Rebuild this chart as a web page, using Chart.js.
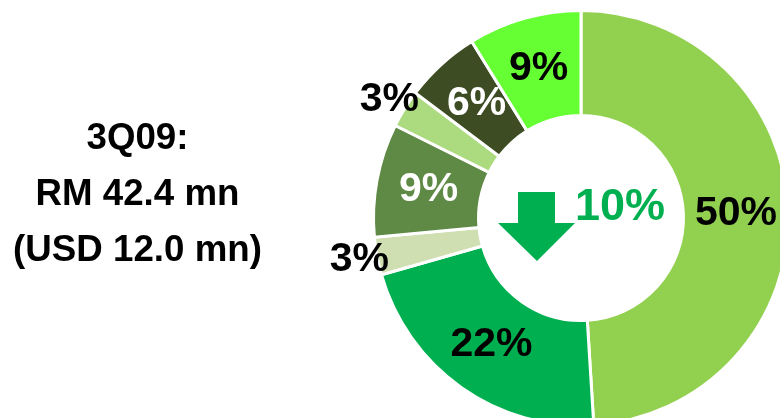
<!DOCTYPE html>
<html>
<head>
<meta charset="utf-8">
<script src="https://cdn.jsdelivr.net/npm/chart.js@4"></script>
<style>
  html, body { margin: 0; padding: 0; width: 780px; height: 418px; overflow: hidden; background: #fff; }
  #wrap { position: absolute; left: 0; top: 0; width: 800px; height: 440px; }
  #caption {
    position: absolute; left: 0; top: 108.5px; width: 275px;
    text-align: center; font: bold 36px/56.2px "Liberation Sans", Arial, sans-serif;
    color: #000; transform: scaleX(1.02); transform-origin: 137.5px 0;
  }
</style>
</head>
<body>
<div id="wrap"><canvas id="c"></canvas></div>
<div id="caption">3Q09:<br>RM 42.4 mn<br>(USD 12.0 mn)</div>
<script>
// Revenue share by segment, clockwise from 12 o'clock (percent)
const sharePct = [50, 22, 3, 9, 3, 6, 9];
const sliceLabels = sharePct.map(v => v + '%');
// Quarter-on-quarter change shown in the hole
const changePct = 10;

const sliceColors = ['#92D050', '#00B050', '#D0DFB2', '#5F8A45', '#ACDA7E', '#3D4C22', '#66FF33'];
const labelInk    = ['#000000', '#000000', '#000000', '#FFFFFF', '#000000', '#FFFFFF', '#000000'];
const FONT = '"Liberation Sans", Arial, sans-serif';
const GREEN = '#00B050';

const sliceLabelPlugin = {
  id: 'sliceLabels',
  afterDatasetsDraw(chart) {
    const ctx = chart.ctx;
    const arcs = chart.getDatasetMeta(0).data;
    ctx.save();
    ctx.font = 'bold 41px ' + FONT;
    ctx.textAlign = 'center';
    ctx.textBaseline = 'middle';
    arcs.forEach((arc, i) => {
      const p = arc.getProps(['x', 'y', 'startAngle', 'endAngle', 'innerRadius', 'outerRadius'], true);
      const mid = (p.startAngle + p.endAngle) / 2;
      const small = sharePct[i] < 5;
      const r = small ? p.outerRadius + 18 : (p.innerRadius + p.outerRadius) / 2;
      ctx.fillStyle = labelInk[i];
      ctx.fillText(sliceLabels[i], p.x + Math.cos(mid) * r, p.y + Math.sin(mid) * r);
    });
    ctx.restore();
  }
};

const centerPlugin = {
  id: 'centerBadge',
  afterDatasetsDraw(chart) {
    const ctx = chart.ctx;
    const a = chart.getDatasetMeta(0).data[0];
    const cx = a.x, cy = a.y;
    ctx.save();
    // down arrow
    ctx.fillStyle = GREEN;
    ctx.beginPath();
    ctx.moveTo(cx - 63, cy - 26);
    ctx.lineTo(cx - 26, cy - 26);
    ctx.lineTo(cx - 26, cy + 5);
    ctx.lineTo(cx - 6, cy + 5);
    ctx.lineTo(cx - 44, cy + 43);
    ctx.lineTo(cx - 83, cy + 5);
    ctx.lineTo(cx - 63, cy + 5);
    ctx.closePath();
    ctx.fill();
    // change figure
    ctx.font = 'bold 45px ' + FONT;
    ctx.textAlign = 'center';
    ctx.textBaseline = 'alphabetic';
    ctx.fillText(changePct + '%', cx + 39, cy + 2);
    ctx.restore();
  }
};

new Chart(document.getElementById('c'), {
  type: 'doughnut',
  data: {
    labels: sliceLabels,
    datasets: [{
      data: sharePct,
      backgroundColor: sliceColors,
      borderColor: '#FFFFFF',
      borderWidth: 3,
      hoverBorderWidth: 3,
      hoverOffset: 0,
      offset: 0
    }]
  },
  options: {
    responsive: true,
    maintainAspectRatio: false,
    animation: false,
    cutout: 102.5,
    rotation: 0,
    layout: { padding: { left: 372, top: 9, right: 10, bottom: 13 } },
    plugins: { legend: { display: false }, tooltip: { enabled: false } },
    events: []
  },
  plugins: [sliceLabelPlugin, centerPlugin]
});
</script>
</body>
</html>
